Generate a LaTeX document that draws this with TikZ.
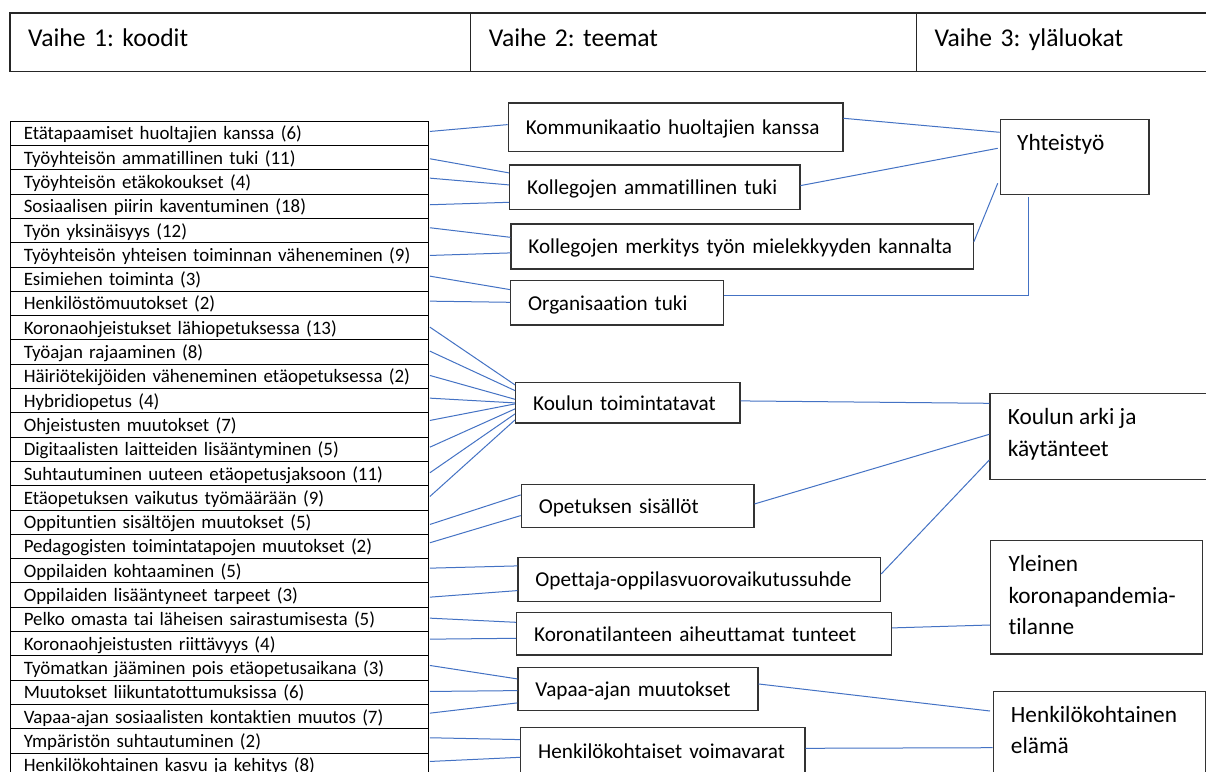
\documentclass[tikz,border=0pt]{standalone}
\usepackage{fontspec}
\setmainfont[Ligatures={NoCommon}]{Carlito}
\usetikzlibrary{calc}
\definecolor{linkblue}{RGB}{68,114,196}
\frenchspacing
\begin{document}
\begin{tikzpicture}[x=1pt,y=-1pt,
  rowbox/.style={draw=black, line width=0.9pt, anchor=north west, minimum width=418pt,
    minimum height=24.3pt, inner ysep=0pt, inner xsep=13.3pt, text width=391.4pt,
    align=left, text height=13pt, text depth=0pt, font=\fontsize{18.9}{22}\selectfont},
  theme/.style={draw=black!80, line width=1.2pt, anchor=north west, inner ysep=0pt,
    inner xsep=17.5pt, align=left, text height=15pt, text depth=0pt,
    font=\fontsize{21.2}{25}\selectfont},
  catbox/.style={draw=black!80, line width=1.2pt, anchor=north west, inner sep=0pt},
  cattext/.style={anchor=base west, inner sep=0pt, font=\fontsize{23.3}{28}\selectfont},
  hdr/.style={draw=black!85, line width=1.2pt, anchor=north west, minimum height=58.7pt,
    inner ysep=0pt, inner xsep=18.3pt, align=left, text height=16pt, text depth=7.9pt,
    font=\fontsize{25.6}{30}\selectfont},
  link/.style={draw=linkblue, line width=1pt}
]
\useasboundingbox[fill=white] (0,0) rectangle (1206,771);

% header
\node[hdr, text width=424.1pt] (h1) at (9.3,12.3) {Vaihe 1: koodit};
\node[hdr, text width=409.1pt] (h2) at (470,12.3) {Vaihe 2: teemat};
\node[hdr, text width=263.4pt] (h3) at (915.7,12.3) {Vaihe 3: yläluokat};

% codes
\foreach \i/\t in {1/Etätapaamiset huoltajien kanssa (6),
  2/Työyhteisön ammatillinen tuki (11),
  3/Työyhteisön etäkokoukset (4),
  4/Sosiaalisen piirin kaventuminen (18),
  5/Työn yksinäisyys (12),
  6/Työyhteisön yhteisen toiminnan väheneminen (9),
  7/Esimiehen toiminta (3),
  8/Henkilöstömuutokset (2),
  9/Koronaohjeistukset lähiopetuksessa (13),
  10/Työajan rajaaminen (8),
  11/Häiriötekijöiden väheneminen etäopetuksessa (2),
  12/Hybridiopetus (4),
  13/Ohjeistusten muutokset (7),
  14/Digitaalisten laitteiden lisääntyminen (5),
  15/Suhtautuminen uuteen etäopetusjaksoon (11),
  16/Etäopetuksen vaikutus työmäärään (9),
  17/Oppituntien sisältöjen muutokset (5),
  18/Pedagogisten toimintatapojen muutokset (2),
  19/Oppilaiden kohtaaminen (5),
  20/Oppilaiden lisääntyneet tarpeet (3),
  21/Pelko omasta tai läheisen sairastumisesta (5),
  22/Koronaohjeistusten riittävyys (4),
  23/Työmatkan jääminen pois etäopetusaikana (3),
  24/Muutokset liikuntatottumuksissa (6),
  25/Vapaa-ajan sosiaalisten kontaktien muutos (7),
  26/Ympäristön suhtautuminen (2),
  27/Henkilökohtainen kasvu ja kehitys (8)}
  \node[rowbox] (r\i) at (10,{120.7+(\i-1)*24.3}) {\t};

% themes
\node[theme, text width=299.6pt, minimum height=48.4pt] (kom) at (507.7,102.3) {Kommunikaatio huoltajien kanssa};
\node[theme, text width=255.3pt, minimum height=44.7pt] (kat) at (509,164.3) {Kollegojen ammatillinen tuki};
\node[theme, text width=427.4pt, minimum height=45pt] (kme) at (510.3,223.3) {Kollegojen merkitys työn mielekkyyden kannalta};
\node[theme, text width=177.7pt, minimum height=44.3pt] (org) at (510,280) {Organisaation tuki};
\node[theme, text width=189.3pt, minimum height=40.3pt] (kto) at (515,382) {Koulun toimintatavat};
\node[theme, text width=197.6pt, minimum height=42.7pt] (ops) at (520.7,484) {Opetuksen sisällöt};
\node[theme, text width=327.7pt, minimum height=44.3pt] (oop) at (517.3,556.7) {Opettaja-oppilasvuorovaikutussuhde};
\node[theme, text width=340pt, minimum height=42.6pt] (kor) at (516,611.7) {Koronatilanteen aiheuttamat tunteet};
\node[theme, text width=205pt, minimum height=43.3pt] (vap) at (517.3,666.7) {Vapaa-ajan muutokset};
\node[theme, text width=249.3pt, minimum height=47pt] (hvo) at (520,726.7) {Henkilökohtaiset voimavarat};

% categories
\node[catbox, minimum width=148.6pt, minimum height=74.7pt] (yht) at (999.7,119) {};
\node[cattext] (yht-t) at (1017,150) {Yhteistyö};
\node[catbox, minimum width=225pt, minimum height=86.3pt] (kar) at (989.3,392.7) {};
\node[cattext] (kar-t1) at (1007.7,424) {Koulun arki ja};
\node[cattext] (kar-t2) at (1007.7,456.7) {käytänteet};
\node[catbox, minimum width=211.7pt, minimum height=113.3pt] (yle) at (990,540) {};
\node[cattext] (yle-t1) at (1008.3,571) {Yleinen};
\node[cattext] (yle-t2) at (1008.3,603) {koronapandemia-};
\node[cattext] (yle-t3) at (1008.3,634) {tilanne};
\node[catbox, minimum width=212.3pt, minimum height=90pt] (hel) at (992.7,690.7) {};
\node[cattext] (hel-t1) at (1010.7,722.3) {Henkilökohtainen};
\node[cattext] (hel-t2) at (1010.7,753.3) {elämä};

% code -> theme connectors
\foreach \r/\a/\t/\b in {1/-1.85/kom/-2.5, 2/1.15/kat/-14.35, 3/-3.75/kat/-2.35, 4/-1.45/kat/15.05,
  5/-2.75/kme/-9.1, 6/0.65/kme/6.5, 7/-2.95/org/-13.15, 8/-2.25/org/-0.45,
  9/-0.55/kto/-17.85, 10/-0.85/kto/-12.15, 11/-0.85/kto/-3.45, 12/-2.45/kto/0.15,
  13/-4.45/kto/1.15, 14/-2.05/kto/6.15, 15/-0.75/kto/11.15, 16/-1.35/kto/17.15,
  17/2.35/ops/-11.05, 18/-3.65/ops/9.65, 19/-2.55/oop/-13.55, 20/2.15/oop/11.15,
  21/-1.15/kor/-11.3, 22/-4.45/kor/4.7, 23/-2.45/vap/-10.05, 24/-0.75/vap/1.65,
  25/-3.35/vap/13.95, 26/-3.05/hvo/-11.2, 27/-3.65/hvo/6.5}
  \draw[link] ($(r\r.east)+(1,\a)$) -- ($(\t.west)+(0,\b)$);

% theme -> category connectors
\draw[link] ($(kom.east)+(0,-8.8)$) -- ($(yht.north west)+(0,13.3)$);
\draw[link] ($(kat.east)+(0,-1.65)$) -- ($(yht.north west)+(-2,29.3)$);
\draw[link] ($(kme.north east)+(0,18.4)$) -- ($(yht.north west)+(-2,64.3)$);
\draw[link] ($(org.east)+(0,-6.85)$) -| ($(yht.south west)+(28.6,2)$);
\draw[link] ($(kto.east)+(0,-1.85)$) -- ($(kar.north west)+(0,10.6)$);
\draw[link] ($(ops.east)+(0,-2)$) -- ($(kar.north west)+(0,41.6)$);
\draw[link] ($(oop.east)+(0,-5.5)$) -- ($(kar.north west)+(0,67.3)$);
\draw[link] ($(kor.east)+(0,-5.7)$) -- ($(yle.north west)+(0,85)$);
\draw[link] ($(vap.east)+(0,-5)$) -- ($(hel.north west)+(-2.7,20.3)$);
\draw[link] ($(hvo.north east)+(0,21.6)$) -- ($(hel.north west)+(0,57)$);
\end{tikzpicture}
\end{document}
